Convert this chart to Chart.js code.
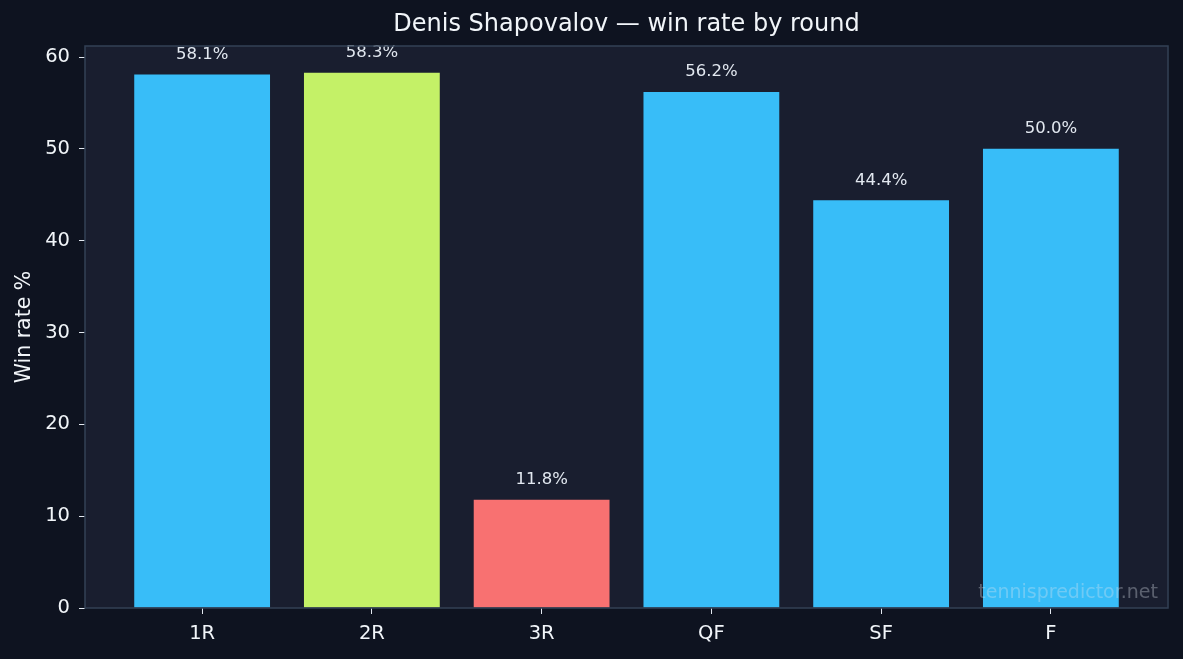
<!DOCTYPE html>
<html>
<head>
<meta charset="utf-8">
<script src="https://cdn.jsdelivr.net/npm/chart.js@4/dist/chart.umd.min.js"></script>
<style>
  html, body { margin: 0; padding: 0; background: #0e1320; }
  #wrap { width: 1183px; height: 659px; position: relative; }
</style>
</head>
<body>
<div id="wrap"><canvas id="chart"></canvas></div>
<script>
const rounds = ["1R", "2R", "3R", "QF", "SF", "F"];
const winRate = [58.1, 58.3, 11.8, 56.2, 44.4, 50.0];
const barColors = ["#38bdf8", "#c4f167", "#f87171", "#38bdf8", "#38bdf8", "#38bdf8"];
const yTicks = [0, 10, 20, 30, 40, 50, 60];

const FONT = "'DejaVu Sans', sans-serif";
const TEXT = "#f1f5f9";

// plot background, frame, value labels and watermark
const decor = {
  id: "decor",
  beforeDraw(chart) {
    const { ctx, chartArea: a } = chart;
    ctx.save();
    ctx.fillStyle = "#0e1320";
    ctx.fillRect(0, 0, chart.width, chart.height);
    ctx.fillStyle = "#191e2f";
    ctx.fillRect(a.left, a.top, a.right - a.left, a.bottom - a.top);
    ctx.restore();
  },
  afterDatasetsDraw(chart) {
    const { ctx, chartArea: a } = chart;
    const meta = chart.getDatasetMeta(0);
    ctx.save();
    ctx.font = "16.5px " + FONT;
    ctx.fillStyle = "#e2e8f0";
    ctx.textAlign = "center";
    ctx.textBaseline = "middle";
    meta.data.forEach((bar, i) => {
      ctx.fillText(winRate[i].toFixed(1) + "%", bar.x, bar.y - 20);
    });
    ctx.font = "19px " + FONT;
    ctx.fillStyle = "rgba(226,232,240,0.33)";
    ctx.textAlign = "right";
    ctx.textBaseline = "alphabetic";
    ctx.fillText("tennispredictor.net", a.right - 10, a.bottom - 10);
    ctx.strokeStyle = "#334155";
    ctx.lineWidth = 1.5;
    ctx.strokeRect(a.left, a.top, a.right - a.left, a.bottom - a.top);
    ctx.restore();
  }
};

new Chart(document.getElementById("chart"), {
  type: "bar",
  data: {
    datasets: [{
      data: rounds.map((r, i) => ({ x: i, y: winRate[i] })),
      backgroundColor: barColors,
      borderWidth: 0,
      categoryPercentage: 1,
      barPercentage: 0.8
    }]
  },
  options: {
    responsive: true,
    maintainAspectRatio: false,
    animation: false,
    layout: { padding: { left: 0, right: 15, top: 0, bottom: 0 } },
    plugins: {
      legend: { display: false },
      tooltip: { enabled: false },
      title: {
        display: true,
        fullSize: false,
        text: "Denis Shapovalov — win rate by round",
        color: TEXT,
        font: { family: FONT, size: 24, weight: "normal" },
        padding: { top: 10, bottom: 7.2 }
      }
    },
    scales: {
      x: {
        type: "linear",
        min: -0.69,
        max: 5.69,
        offset: false,
        afterBuildTicks: (axis) => { axis.ticks = rounds.map((r, i) => ({ value: i })); },
        afterFit: (scale) => { scale.height = 51; },
        ticks: {
          color: TEXT,
          font: { family: FONT, size: 19.5 },
          padding: 8,
          maxRotation: 0,
          autoSkip: false,
          callback: (v) => rounds[v]
        },
        grid: { display: true, offset: false, drawOnChartArea: false, drawTicks: true, tickLength: 6, tickColor: "#e2e8f0", tickWidth: 1 },
        border: { display: false }
      },
      y: {
        min: 0,
        max: 61.2,
        afterBuildTicks: (axis) => { axis.ticks = yTicks.map((v) => ({ value: v })); },
        afterFit: (scale) => { scale.width = 85; },
        ticks: {
          color: TEXT,
          font: { family: FONT, size: 19.5 },
          padding: 9
        },
        grid: { display: true, drawOnChartArea: false, drawTicks: true, tickLength: 6, tickColor: "#e2e8f0", tickWidth: 1 },
        border: { display: false },
        title: {
          display: true,
          text: "Win rate %",
          color: TEXT,
          font: { family: FONT, size: 20.5 },
          padding: { top: 12, bottom: 0 }
        }
      }
    }
  },
  plugins: [decor]
});
</script>
</body>
</html>
